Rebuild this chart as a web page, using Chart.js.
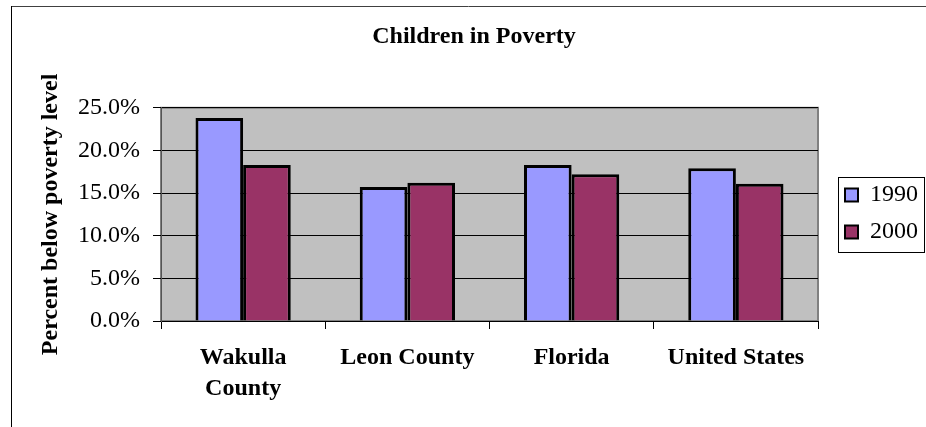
<!DOCTYPE html>
<html>
<head>
<meta charset="utf-8">
<title>Children in Poverty</title>
<script src="https://cdn.jsdelivr.net/npm/chart.js@4"></script>
<style>
  html, body { margin: 0; padding: 0; background: #fff; }
  canvas { display: block; }
</style>
</head>
<body>
<canvas id="povertyChart" width="926" height="427"></canvas>
<script>
// values (percent of children below poverty level)
const categories = [['Wakulla', 'County'], 'Leon County', 'Florida', 'United States'];
const years = ['1990', '2000'];
const pct1990 = [23.8, 15.7, 18.3, 17.9];
const pct2000 = [18.3, 16.2, 17.2, 16.1];
const yMax = 25;
const yStep = 5;

const serif = "'Liberation Serif', 'Times New Roman', serif";
Chart.defaults.font.family = serif;
Chart.defaults.color = '#000';

// grey plot background + the outer frame of the old spreadsheet chart
const plotBackground = {
  id: 'plotBackground',
  beforeDraw(chart) {
    const ctx = chart.ctx;
    const a = chart.chartArea;
    ctx.save();
    ctx.fillStyle = '#C0C0C0';
    ctx.fillRect(a.left, a.top, a.right - a.left, a.bottom - a.top);
    ctx.strokeStyle = '#808080';
    ctx.lineWidth = 2;
    ctx.strokeRect(a.left, a.top, a.right - a.left, a.bottom - a.top);
    // outer frame (top and left edges only are in view)
    ctx.lineWidth = 1;
    ctx.strokeStyle = '#404040';
    ctx.beginPath();
    ctx.moveTo(11, 6.5);
    ctx.lineTo(chart.width, 6.5);
    ctx.stroke();
    ctx.strokeStyle = '#000';
    ctx.beginPath();
    ctx.moveTo(11.5, 6);
    ctx.lineTo(11.5, chart.height);
    ctx.stroke();
    ctx.restore();
  }
};

// fixed legend column on the right, with a box drawn round it
const legendColumn = {
  id: 'legendColumn',
  beforeLayout(chart) {
    const lg = chart.legend;
    if (lg && !lg._fixedWidth) {
      const fit = lg.fit;
      lg.fit = function() {
        fit.call(this);
        this.width = 108;
      };
      lg._fixedWidth = true;
    }
  },
  afterLayout(chart) {
    chart.legend.left += 14;
  },
  afterDraw(chart) {
    const boxes = chart.legend.legendHitBoxes;
    if (!boxes || !boxes.length) return;
    const last = boxes[boxes.length - 1];
    const x0 = boxes[0].left - 7;
    const y0 = boxes[0].top - 6;
    const y1 = last.top + last.height + 8;
    const ctx = chart.ctx;
    ctx.save();
    ctx.strokeStyle = '#000';
    ctx.lineWidth = 1;
    ctx.strokeRect(x0 + 0.5, y0 + 0.5, chart.width - 2 - x0, y1 - y0);
    ctx.restore();
  }
};

const ctx = document.getElementById('povertyChart').getContext('2d');
const povertyChart = new Chart(ctx, {
  type: 'bar',
  data: {
    labels: categories,
    datasets: [{
      label: years[0],
      data: pct1990,
      backgroundColor: '#9999FF',
      borderColor: '#000',
      borderWidth: 3
    }, {
      label: years[1],
      data: pct2000,
      backgroundColor: '#993366',
      borderColor: '#000',
      borderWidth: 3
    }]
  },
  options: {
    responsive: false,
    animation: false,
    devicePixelRatio: 1,
    events: [],
    categoryPercentage: 0.58,
    barPercentage: 1,
    layout: { padding: { left: 22, right: 0, top: 0, bottom: 0 } },
    plugins: {
      title: {
        display: true,
        text: 'Children in Poverty',
        color: '#000',
        font: { family: serif, size: 24, weight: 'bold', lineHeight: 1.2 },
        padding: { top: 22, bottom: 57 }
      },
      legend: {
        display: true,
        position: 'right',
        align: 'center',
        labels: {
          color: '#000',
          font: { family: serif, size: 24 },
          boxWidth: 13,
          boxHeight: 13,
          padding: 13,
          generateLabels(chart) {
            const items = Chart.defaults.plugins.legend.labels.generateLabels(chart);
            items.forEach(function(item) { item.lineWidth = 2; });
            return items;
          }
        }
      },
      tooltip: { enabled: false }
    },
    scales: {
      x: {
        grid: {
          display: true,
          drawOnChartArea: false,
          drawTicks: true,
          tickLength: 8,
          color: '#000',
          lineWidth: 1
        },
        border: { display: true, color: '#000', width: 1 },
        ticks: {
          color: '#000',
          font: { family: serif, size: 24, weight: 'bold', lineHeight: 1.3 },
          padding: 13,
          maxRotation: 0,
          autoSkip: false
        },
        afterFit(scale) {
          scale.height = 106;
        }
      },
      y: {
        min: 0,
        max: yMax,
        grid: {
          color: '#000',
          lineWidth: 1,
          tickLength: 8,
          drawTicks: true
        },
        border: { display: true, color: '#555', width: 1 },
        ticks: {
          stepSize: yStep,
          color: '#000',
          font: { family: serif, size: 24 },
          padding: 13,
          callback: function(value) { return value.toFixed(1) + '%'; }
        },
        title: {
          display: true,
          text: 'Percent below poverty level',
          color: '#000',
          font: { family: serif, size: 24, weight: 'bold', lineHeight: 1.2 },
          padding: { top: 14, bottom: 0 }
        },
        afterFit(scale) {
          scale.width = 139;
        }
      }
    }
  },
  plugins: [plotBackground, legendColumn]
});
</script>
</body>
</html>
